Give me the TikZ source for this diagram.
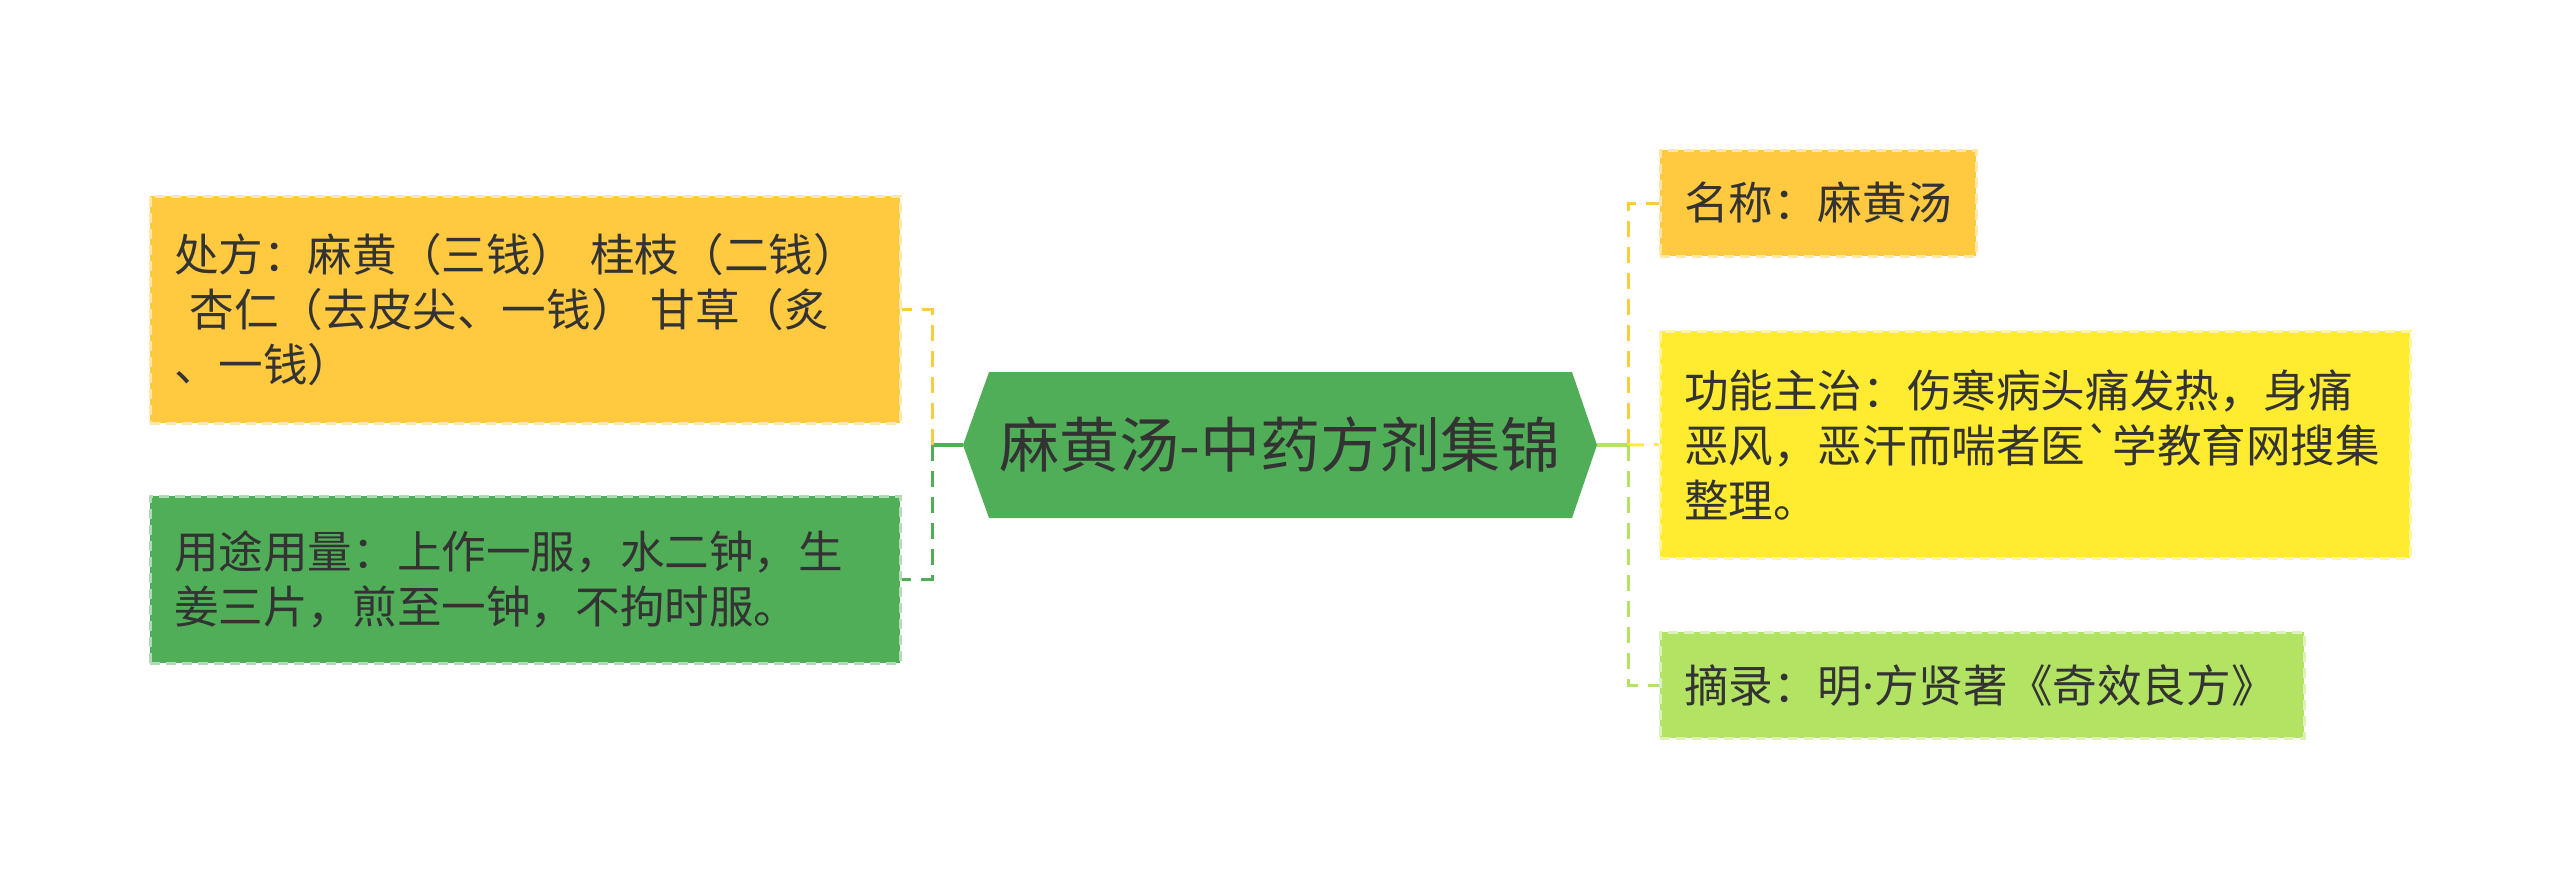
\documentclass[tikz,border=0pt]{standalone}
\usepackage{fontspec}
\setmainfont{Noto Sans CJK SC}
\newfontfamily\latinfont{Noto Sans}
\definecolor{cOrange}{HTML}{FFC940}
\definecolor{cGreen}{HTML}{50AE58}
\definecolor{cYellow}{HTML}{FFEC30}
\definecolor{cLime}{HTML}{B3E362}
\definecolor{txt}{HTML}{333333}
\newcommand{\gravechar}{\XeTeXglyph\XeTeXcharglyph"60\relax}
\begin{document}
\begin{tikzpicture}[x=0.5pt,y=-0.5pt,
  box/.style={rectangle, inner ysep=0pt, inner xsep=12pt, anchor=center, text=txt,
    font=\fontsize{22.3pt}{27.5pt}\selectfont, align=left,
    fill=#1, draw=#1!45!white, line width=1.5pt, dash pattern=on 5pt off 3pt},
  conn/.style={line width=1.5pt, dash pattern=on 8pt off 5pt},
  solidconn/.style={line width=1.8pt}
]
\useasboundingbox (0,0) rectangle (2560,890);

% left boxes
\node[box=cOrange, text width=351pt, minimum height=113.5pt] (chufang) at (525,309.5)
  {处方：麻黄（三钱） 桂枝（二钱）\\\hspace*{0.35em}杏仁（去皮尖、一钱） 甘草（炙\\、一钱）};
\node[box=cGreen, text width=351pt, minimum height=83.5pt] (yongtu) at (525,579.5)
  {用途用量：上作一服，水二钟，生\\姜三片，煎至一钟，不拘时服。};

% right boxes
\node[box=cOrange, text width=134pt, minimum height=53pt] (mingcheng) at (1818,203)
  {名称：麻黄汤};
\node[box=cYellow, text width=351pt, minimum height=113.5pt] (gongneng) at (2035,444.5)
  {功能主治：伤寒病头痛发热，身痛\\恶风，恶汗而喘者医\gravechar 学教育网搜集\\整理。};
\node[box=cLime, text width=298pt, minimum height=53pt] (zhailu) at (1982,685)
  {摘录：明{\latinfont ·}方贤著《奇效良方》};

% central hexagon
\fill[cGreen] (963,445) -- (989,372) -- (1572,372) -- (1597,445) -- (1572,518) -- (989,518) -- cycle;
\node[font=\fontsize{30pt}{36pt}\selectfont, text=txt, inner sep=0pt] (root) at (1280,445) {麻黄汤-中药方剂集锦};
\coordinate (rootL) at (963,445);
\coordinate (rootR) at (1597,445);
\coordinate (jL) at (932,445);
\coordinate (jR) at (1628,445);

% connectors left
\draw[solidconn, cGreen] (rootL) -- (jL);
\draw[conn, cOrange] (jL) |- (chufang.east);
\draw[conn, cGreen] (jL) |- (yongtu.east);
% connectors right
\draw[solidconn, cLime] (rootR) -- (jR);
\draw[conn, cOrange] (jR) |- (mingcheng.west);
\draw[conn, cYellow] (jR) -- (gongneng.west);
\draw[conn, cLime] (jR) |- (zhailu.west);
\end{tikzpicture}
\end{document}
